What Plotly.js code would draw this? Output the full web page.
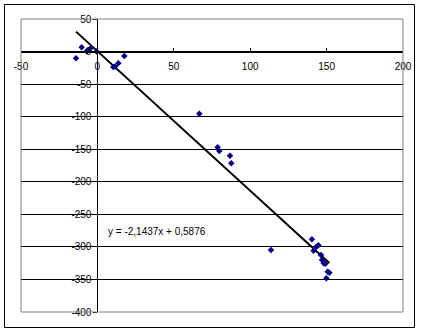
<!DOCTYPE html>
<html>
<head>
<meta charset="utf-8">
<script src="https://cdn.plot.ly/plotly-3.0.1.min.js"></script>
<style>
html,body{margin:0;padding:0;background:#fff;}
#chart{width:423px;height:332px;}
</style>
</head>
<body>
<div id="chart"></div>
<script>
// Data
const xValues = [-14.0, -10.3, -7.0, -6.6, -4.4, -0.5, 10.4, 11.5, 13.7, 17.6, 66.7,
                 78.7, 79.8, 86.8, 87.6, 113.6, 140.4, 141.5, 143.3, 144.6, 146.3,
                 147.0, 148.1, 149.2, 150.7, 151.8, 149.8];
const yValues = [-10.3, 6.6, 0.5, 1.4, 5.0, 0.0, -23.6, -23.0, -18.0, -6.8, -95.4,
                 -147.0, -152.7, -160.0, -171.6, -304.8, -288.3, -305.8, -299.7, -297.6, -312.5,
                 -320.0, -325.0, -326.0, -338.0, -339.6, -348.0];
const slope = -2.1437;
const intercept = 0.5876;
const equationText = "y = -2,1437x + 0,5876";
const xTickVals = [-50, 0, 50, 100, 150, 200];
const xTickText = ["-50", "0", "50", "100", "150", "200"];
const yTickVals = [50, 0, -50, -100, -150, -200, -250, -300, -350, -400];
const yTickText = ["50", "0", "-50", "-100", "-150", "-200", "-250", "-300", "-350", "-400"];

const xMin = Math.min(...xValues), xMax = Math.max(...xValues);
const trendX = [xMin, xMax];
const trendY = trendX.map(x => slope * x + intercept);

const font = {family: "Liberation Sans, Arial, sans-serif", size: 10, color: "#000"};

const traces = [
  {x: trendX, y: trendY, mode: "lines", type: "scatter",
   line: {color: "#000", width: 2}, hoverinfo: "skip"},
  {x: xValues, y: yValues, mode: "markers", type: "scatter",
   marker: {symbol: "diamond", size: 5, color: "#000080"}}
];

const layout = {
  width: 423, height: 332,
  margin: {l: 21, r: 20, t: 19, b: 20, pad: 0},
  paper_bgcolor: "#fff", plot_bgcolor: "#fff",
  showlegend: false,
  font: font,
  xaxis: {
    range: [-50, 200], anchor: "free", position: 400/450, side: "bottom",
    tickvals: xTickVals, ticktext: xTickText,
    showgrid: false, zeroline: false,
    showline: true, linecolor: "#000", linewidth: 1,
    ticks: "inside", ticklen: 4, tickcolor: "#000",
    ticklabelstandoff: 5,
    tickfont: font, fixedrange: true
  },
  yaxis: {
    range: [-400, 50], anchor: "free", position: 50/250, side: "left",
    tickvals: yTickVals, ticktext: yTickText,
    showgrid: true, gridcolor: "#000", gridwidth: 1, zeroline: false,
    showline: true, linecolor: "#000", linewidth: 1,
    ticks: "outside", ticklen: 4, tickcolor: "#000",
    tickfont: font, fixedrange: true
  },
  shapes: [
    {type: "rect", xref: "paper", yref: "paper", x0: 0, x1: 1, y0: 0, y1: 1,
     line: {color: "#808080", width: 1}, layer: "above"},
    {type: "rect", xref: "paper", yref: "paper",
     x0: (4.5-21)/382, x1: (414.5-21)/382, y0: (312-327.5)/293, y1: (312-4.5)/293,
     line: {color: "#000", width: 1}, layer: "above"}
  ],
  annotations: [
    {x: 5.6, y: -275.6, xref: "x", yref: "y", text: equationText,
     showarrow: false, xanchor: "left", yanchor: "middle", font: font}
  ]
};

Plotly.newPlot("chart", traces, layout, {displayModeBar: false, staticPlot: true});
</script>
</body>
</html>
